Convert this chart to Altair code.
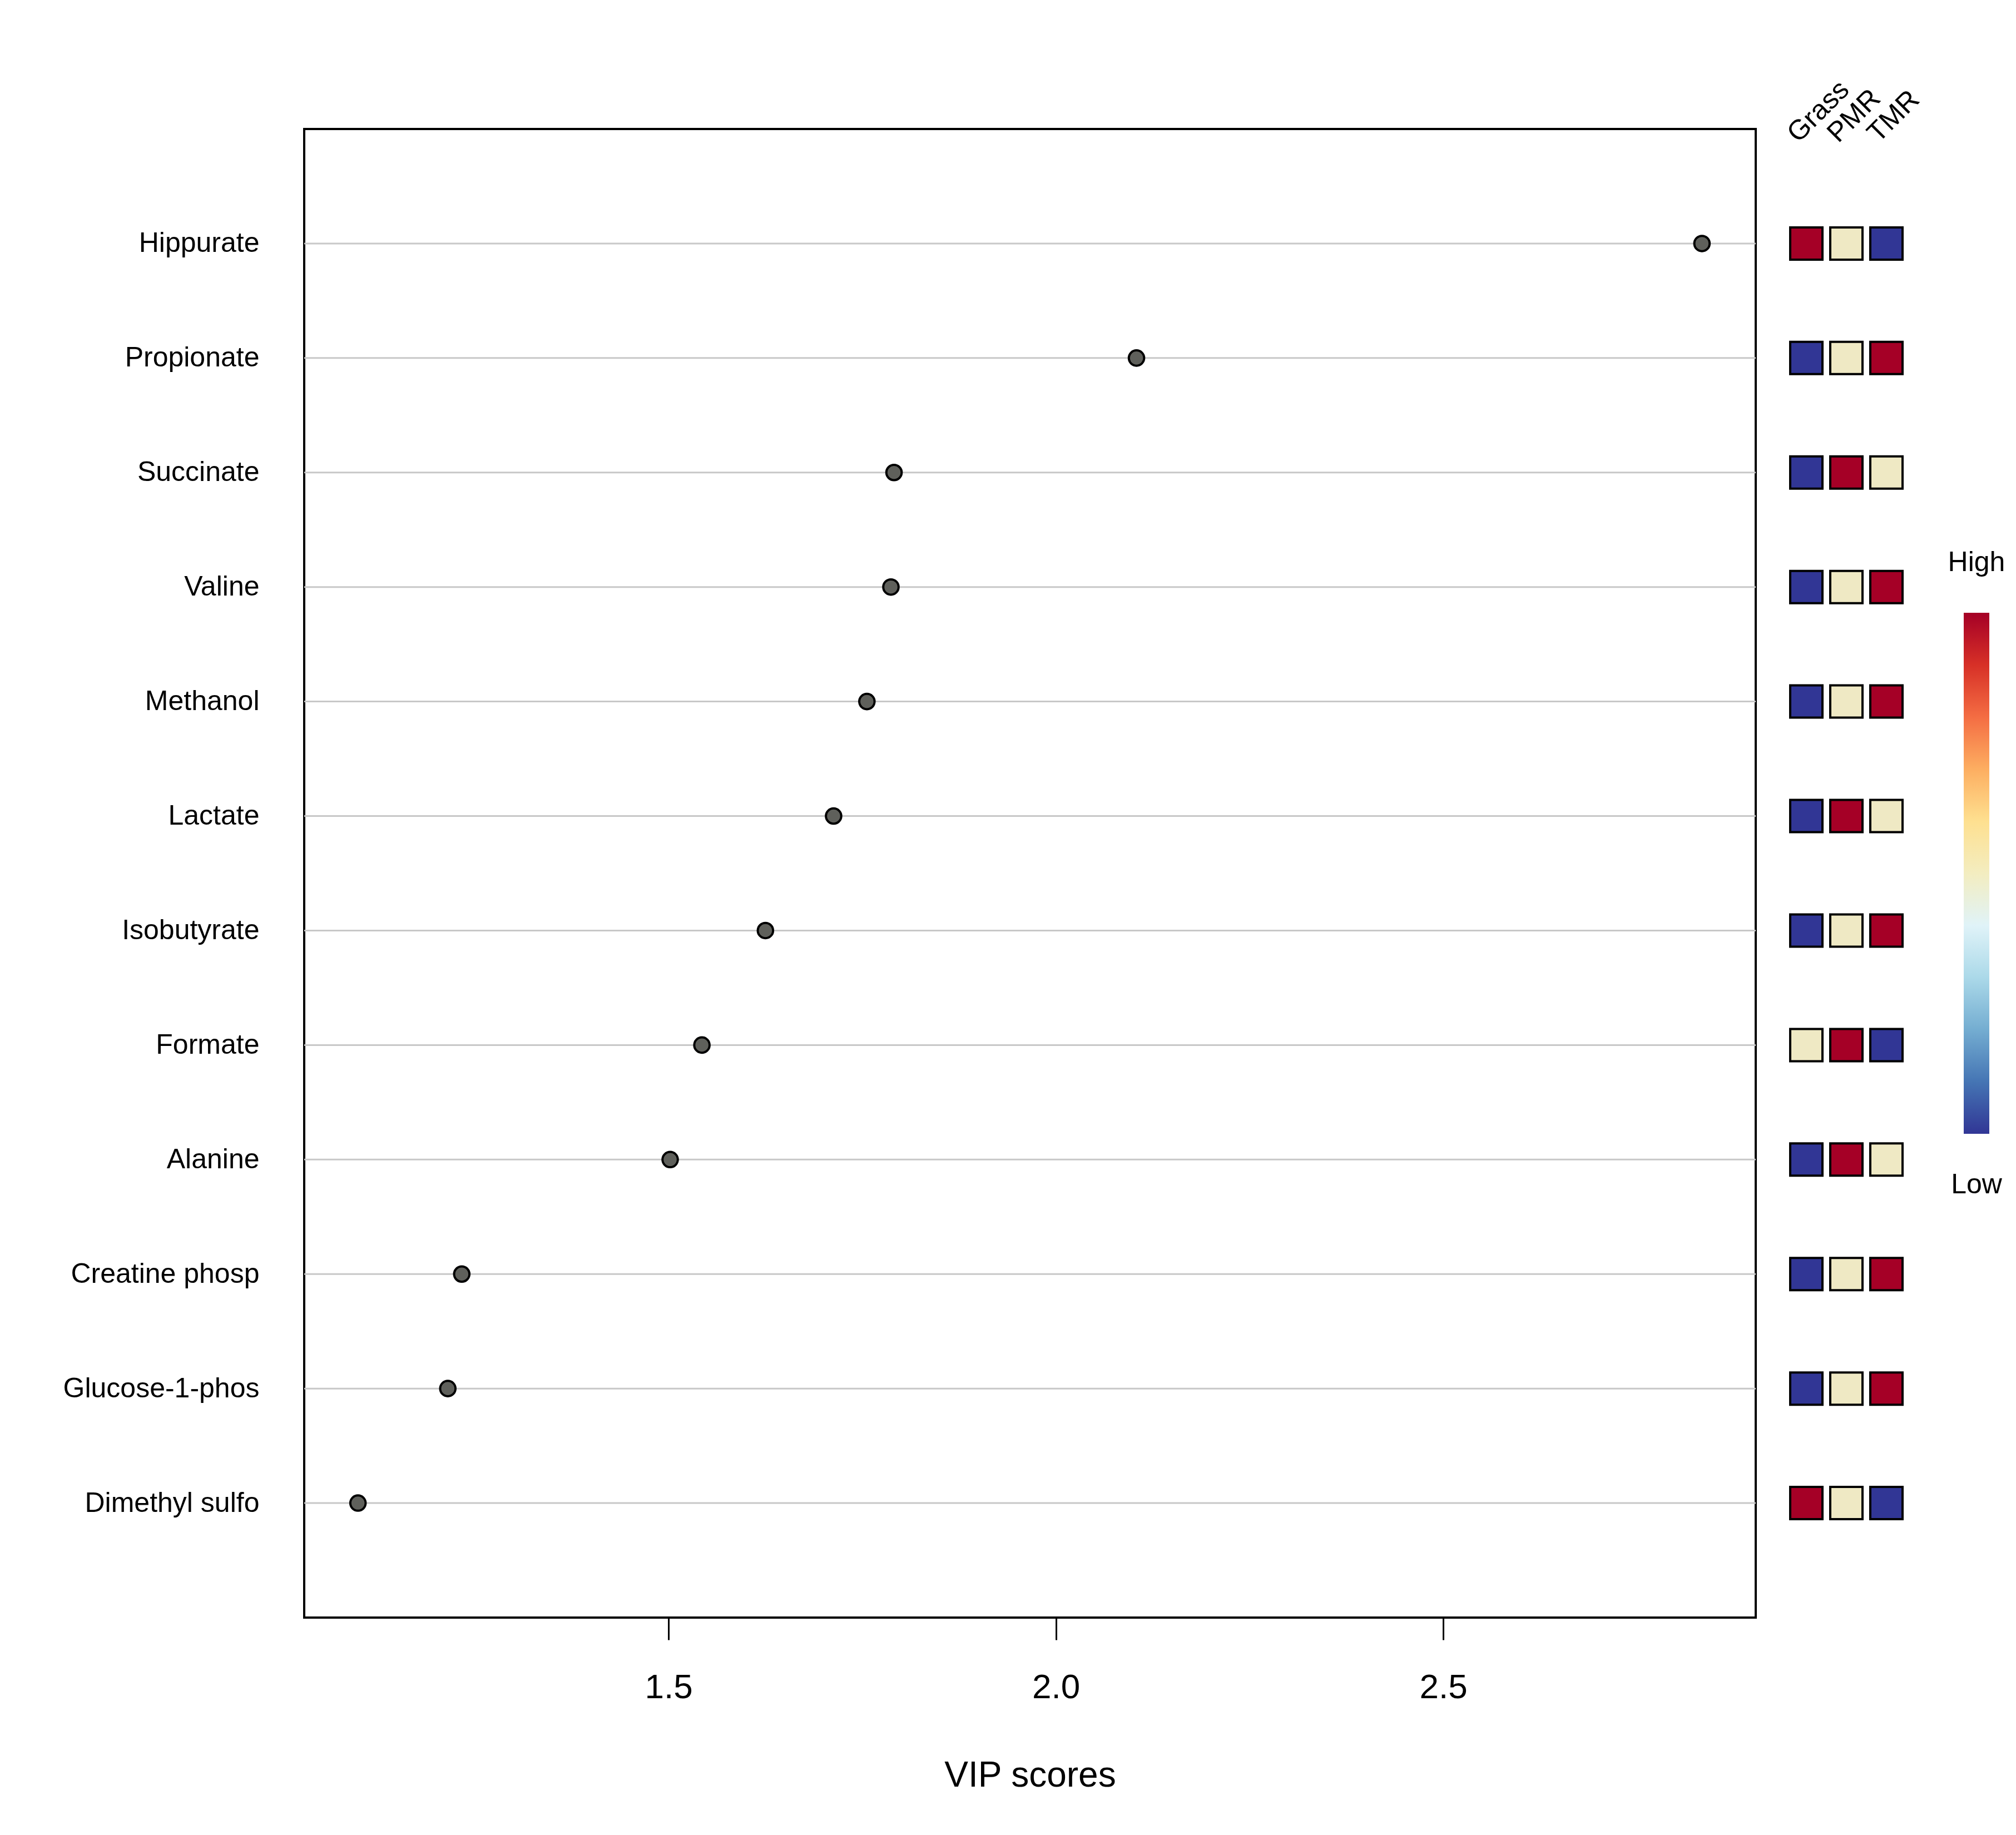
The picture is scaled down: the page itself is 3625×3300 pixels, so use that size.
import altair as alt
import pandas as pd

# ---- data ----
metabolites = ["Hippurate", "Propionate", "Succinate", "Valine", "Methanol", "Lactate",
               "Isobutyrate", "Formate", "Alanine", "Creatine phosp", "Glucose-1-phos",
               "Dimethyl sulfo"]
vip = [2.834, 2.104, 1.791, 1.787, 1.756, 1.713, 1.625, 1.543, 1.502, 1.233, 1.215, 1.099]
groups = ["Grass", "PMR", "TMR"]
grass_level = ["High", "Low", "Low", "Low", "Low", "Low", "Low", "Mid", "Low", "Low", "Low", "High"]
pmr_level = ["Mid", "Mid", "High", "Mid", "Mid", "High", "Mid", "High", "High", "Mid", "Mid", "Mid"]
tmr_level = ["Low", "High", "Mid", "High", "High", "Mid", "High", "Low", "Mid", "High", "High", "Low"]
level_names = ["High", "Mid", "Low"]
level_colors = ["#A50026", "#EFE9C4", "#313695"]
x_ticks = [1.5, 2.0, 2.5]
colorbar_ends = [0, 1]
colorbar_labels = ["Low", "High"]
rdylbu = ["#A50026", "#D73027", "#F46D43", "#FDAE61", "#FEE090", "#F3EDC0",
          "#E0F3F8", "#ABD9E9", "#74ADD1", "#4575B4", "#313695"]

FONT = "Liberation Sans"
H = 2677
W_MAIN = 2610

span = max(vip) - min(vip)
x_domain = [min(vip) - 0.04 * span, max(vip) + 0.04 * span]

df = pd.DataFrame({"metabolite": metabolites, "vip": vip})

y_main = alt.Y("metabolite:N", sort=metabolites,
               scale=alt.Scale(type="point", padding=1),
               axis=alt.Axis(title=None, ticks=False, domain=False, grid=False,
                             labelFont=FONT, labelFontSize=50, labelColor="black",
                             labelPadding=81, labelLimit=2000))
x_main = alt.X("vip:Q", scale=alt.Scale(domain=x_domain, nice=False, zero=False),
               axis=alt.Axis(values=x_ticks, format=".1f", grid=False, domain=False,
                             ticks=True, tickSize=40, tickWidth=3, tickColor="black",
                             labelFont=FONT, labelFontSize=62, labelColor="black",
                             labelBaseline="alphabetic", labelPadding=104,
                             title="VIP scores", titleFont=FONT, titleFontSize=64,
                             titleFontWeight="normal", titleColor="black",
                             titleBaseline="alphabetic", titleY=303))

rules = alt.Chart(df).mark_rule(color="#C8C8C8", strokeWidth=3).encode(y=y_main)
dots = alt.Chart(df).mark_point(shape="circle", filled=True, fill="#5F605B", stroke="black",
                                strokeWidth=4, size=760, opacity=1).encode(x=x_main, y=y_main)
main = alt.layer(rules, dots).properties(
    width=W_MAIN, height=H,
    view=alt.ViewBackground(stroke="black", strokeWidth=4))

# ---- heatmap of group levels ----
heat_rows = []
for g, lv_list in zip(groups, [grass_level, pmr_level, tmr_level]):
    for m, lv in zip(metabolites, lv_list):
        heat_rows.append({"metabolite": m, "group": g, "level": lv})
heat_df = pd.DataFrame(heat_rows)

y_heat = alt.Y("metabolite:N", sort=metabolites,
               scale=alt.Scale(type="point", padding=1), axis=None)
x_heat = alt.X("group:N", sort=groups,
               scale=alt.Scale(type="point", padding=0.8333, align=0.3),
               axis=alt.Axis(orient="top", title=None, ticks=False, domain=False, grid=False,
                             labelAngle=315, labelAlign="left", labelBaseline="alphabetic",
                             labelPadding=-26, labelOffset=-15,
                             labelFont=FONT, labelFontSize=50, labelColor="black"))
heat = alt.Chart(heat_df).mark_square(size=3364, filled=True, stroke="black",
                                      strokeWidth=4, opacity=1).encode(
    x=x_heat, y=y_heat,
    fill=alt.Fill("level:N", scale=alt.Scale(domain=level_names, range=level_colors),
                  legend=None)
).properties(width=264, height=H, view=alt.ViewBackground(stroke="transparent"))

# ---- colour key ----
bar_top_px, bar_len_px = 870, 937
cb_scale = alt.Scale(domain=[-(H - bar_top_px - bar_len_px) / bar_len_px,
                             1 + bar_top_px / bar_len_px], nice=False, zero=False)
cb_df = pd.DataFrame({"lo": [colorbar_ends[0]], "hi": [colorbar_ends[1]]})
stops = [alt.GradientStop(offset=i / (len(rdylbu) - 1), color=c) for i, c in enumerate(rdylbu)]
cbar = alt.Chart(cb_df).mark_rect(
    color=alt.LinearGradient(gradient="linear", stops=stops, x1=0, x2=0, y1=0, y2=1)
).encode(y=alt.Y("lo:Q", scale=cb_scale, axis=None), y2="hi:Q")

lab_df = pd.DataFrame({"v": colorbar_ends, "label": colorbar_labels})
low_txt = alt.Chart(lab_df).transform_filter(alt.datum.v == colorbar_ends[0]).mark_text(
    font=FONT, fontSize=50, color="black", align="center", baseline="alphabetic", dy=107
).encode(y=alt.Y("v:Q", scale=cb_scale, axis=None), text="label:N")
high_txt = alt.Chart(lab_df).transform_filter(alt.datum.v == colorbar_ends[1]).mark_text(
    font=FONT, fontSize=50, color="black", align="center", baseline="alphabetic", dy=-75
).encode(y=alt.Y("v:Q", scale=cb_scale, axis=None), text="label:N")

key = alt.layer(cbar, low_txt, high_txt).properties(
    width=46, height=H, view=alt.ViewBackground(stroke="transparent"))

chart = alt.hconcat(main, heat, key, spacing=55, bounds="flush").properties(
    padding={"left": 103, "top": 126, "right": 10, "bottom": 20},
    background="white"
).configure(font=FONT)

chart.save("out.html", embed_options={"renderer": "svg", "actions": False})
